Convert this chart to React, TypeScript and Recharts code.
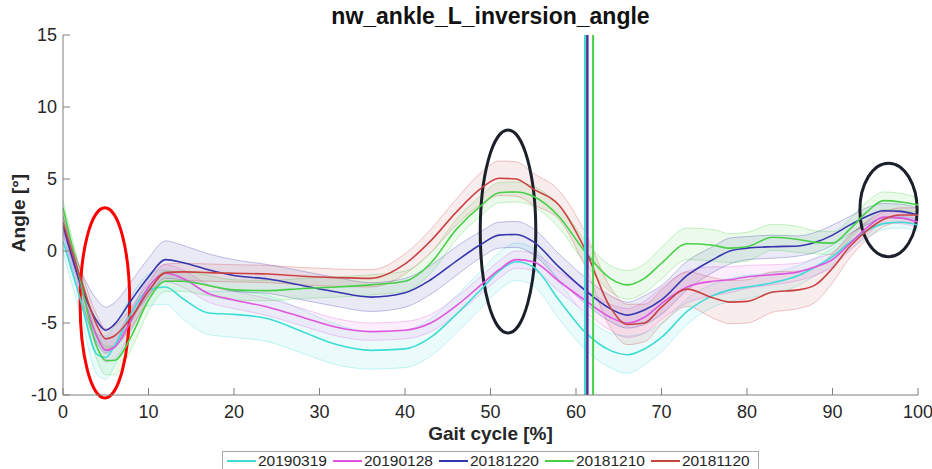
import {
  ComposedChart,
  Area,
  Line,
  XAxis,
  YAxis,
  ReferenceLine,
  ReferenceArea,
} from 'recharts';

// gait cycle samples (%)
const gaitX = [
  0, 2, 4, 5, 6, 8, 10,
  12, 14, 17, 20, 24,
  28, 32, 36, 40, 43,
  46, 49, 51, 53, 55,
  58, 61, 64, 66, 68,
  70, 73, 76, 78, 80,
  83, 86, 88, 90, 92,
  94, 96, 98, 100,
];

// mean curves (deg)
const mean20190319 = [
  0.7, -3.3, -7.2, -7.4, -6.6, -4.3, -2.7,
  -2.5, -3.3, -4.3, -4.4, -4.7,
  -5.6, -6.5, -6.9, -6.8, -6.0,
  -4.4, -2.6, -1.4, -0.75, -1.1,
  -3.4, -5.6, -6.9, -7.2, -6.8,
  -6.0, -4.2, -3.1, -2.7, -2.5,
  -2.2, -1.7, -1.1, -0.4, 0.6,
  1.4, 1.9, 2.0, 1.8,
];
const mean20190128 = [
  1.9, -2.3, -6.0, -6.9, -6.7, -4.8, -2.5,
  -1.55, -1.9, -2.95, -3.4, -3.9,
  -4.6, -5.3, -5.6, -5.5, -5.0,
  -3.8, -2.3, -1.3, -0.6, -0.75,
  -2.1, -3.4, -4.6, -5.0, -4.6,
  -3.65, -2.5, -2.1, -2.0, -1.8,
  -1.65, -1.45, -1.1, -0.6, 0.5,
  1.6, 2.35, 2.3, 2.0,
];
const mean20181220 = [
  1.8, -2.2, -4.9, -5.5, -5.1, -3.4, -1.8,
  -0.6, -0.8, -1.3, -1.7, -1.95,
  -2.4, -2.85, -3.2, -2.9, -2.0,
  -0.7, 0.5, 1.1, 1.15, 0.65,
  -1.1, -2.7, -4.0, -4.45, -4.1,
  -3.4, -1.7, -0.6, 0.0, 0.2,
  0.3, 0.35, 0.6, 1.1, 1.8,
  2.4, 2.8, 2.75, 2.5,
];
const mean20181210 = [
  3.0, -2.0, -6.7, -7.6, -7.6, -5.9, -3.4,
  -2.1, -2.1, -2.4, -2.7, -2.75,
  -2.6, -2.5, -2.35, -2.1, -0.85,
  1.5, 3.2, 4.05, 4.1, 3.8,
  2.4, 0.0, -1.9, -2.35, -1.9,
  -0.85, 0.5, 0.4, 0.2, 0.3,
  0.95, 0.8, 0.6, 0.55, 1.5,
  2.7, 3.5, 3.4, 3.2,
];
const mean20181120 = [
  2.0, -1.8, -5.2, -6.1, -5.9, -4.6, -2.8,
  -1.5, -1.45, -1.5, -1.55, -1.6,
  -1.75, -1.85, -1.9, -0.9, 0.7,
  2.7, 4.4, 5.05, 5.0, 4.3,
  3.2, 0.2, -3.9, -5.1, -5.0,
  -3.9, -2.65, -3.25, -3.55, -3.5,
  -2.85, -2.7, -2.35, -1.2, 0.3,
  1.4, 2.2, 2.5, 2.5,
];

// standard deviation half-widths (deg)
const sd20190319 = [
  0.8, 1.0, 1.4, 1.5, 1.4, 1.2, 1.1,
  1.2, 1.4, 1.5, 1.6, 1.6,
  1.5, 1.4, 1.3, 1.3, 1.3,
  1.3, 1.3, 1.3, 1.3, 1.3,
  1.3, 1.2, 1.2, 1.3, 1.1,
  1.0, 0.9, 0.8, 0.8, 0.8,
  0.7, 0.7, 0.6, 0.6, 0.5,
  0.5, 0.4, 0.4, 0.4,
];
const sd20190128 = [
  0.4, 0.6, 0.8, 0.8, 0.8, 0.7, 0.6,
  0.6, 0.6, 0.6, 0.6, 0.6,
  0.6, 0.6, 0.6, 0.6, 0.6,
  0.6, 0.6, 0.6, 0.6, 0.6,
  0.7, 0.8, 0.9, 1.0, 1.1,
  1.1, 1.1, 1.0, 0.9, 0.8,
  0.7, 0.6, 0.6, 0.5, 0.5,
  0.5, 0.4, 0.4, 0.4,
];
const sd20181220 = [
  0.6, 1.0, 1.5, 1.6, 1.5, 1.3, 1.3,
  1.3, 1.2, 1.1, 1.1, 1.0,
  1.0, 1.0, 1.0, 1.0, 1.0,
  1.0, 0.9, 0.9, 0.9, 0.9,
  0.9, 0.9, 0.9, 0.9, 1.0,
  1.0, 1.0, 0.9, 0.9, 0.8,
  0.8, 0.7, 0.7, 0.7, 0.6,
  0.6, 0.5, 0.5, 0.5,
];
const sd20181210 = [
  0.5, 0.7, 0.9, 1.0, 1.0, 0.9, 0.8,
  0.7, 0.7, 0.7, 0.7, 0.7,
  0.7, 0.7, 0.7, 0.7, 0.7,
  0.7, 0.7, 0.7, 0.7, 0.7,
  0.8, 0.8, 0.9, 1.0, 1.0,
  1.1, 1.1, 1.1, 1.0, 1.0,
  0.9, 0.9, 0.8, 0.8, 0.7,
  0.7, 0.6, 0.6, 0.5,
];
const sd20181120 = [
  0.5, 0.6, 0.7, 0.7, 0.7, 0.7, 0.6,
  0.6, 0.6, 0.6, 0.6, 0.6,
  0.6, 0.6, 0.6, 0.7, 0.8,
  0.9, 1.1, 1.2, 1.2, 1.1,
  1.0, 1.2, 1.4, 1.4, 1.3,
  1.2, 1.2, 1.4, 1.5, 1.5,
  1.4, 1.3, 1.2, 1.0, 0.8,
  0.6, 0.5, 0.5, 0.5,
];

// toe-off events (% gait cycle), same order as sessions
const toeOff = [61.05, 61.2, 61.35, 62.0, 61.3];

const sessionNames = ['20190319', '20190128', '20181220', '20181210', '20181120'];
const sessionColors = ['#3fdcd6', '#e055e0', '#3535ad', '#47d047', '#c94343'];

const xTicks = [0, 10, 20, 30, 40, 50, 60, 70, 80, 90, 100];
const yTicks = [-10, -5, 0, 5, 10, 15];

// highlighted regions (data units)
const highlights = [
  { x1: 2.0, x2: 7.8, y1: -10.2, y2: 3.0, color: '#ff0000' },
  { x1: 48.8, x2: 55.3, y1: -5.7, y2: 8.4, color: '#1b202b' },
  { x1: 93.2, x2: 99.9, y1: -0.4, y2: 6.1, color: '#1b202b' },
];

const means = [mean20190319, mean20190128, mean20181220, mean20181210, mean20181120];
const sds = [sd20190319, sd20190128, sd20181220, sd20181210, sd20181120];

const series = sessionNames.map((name, i) => ({
  key: `s${name}`,
  name,
  color: sessionColors[i],
  mean: means[i],
  sd: sds[i],
  event: toeOff[i],
}));

const rows = gaitX.map((x, i) => {
  const r: Record<string, number | number[]> = { x };
  series.forEach((s) => {
    r[s.key] = s.mean[i];
    r[`${s.key}Band`] = [s.mean[i] - s.sd[i], s.mean[i] + s.sd[i]];
  });
  return r;
});

const FONT = '"Liberation Sans", Arial, sans-serif';
const AXIS = '#7f7f7f';
const TEXT = '#262626';

const ellipse = (color: string) => (props: any) => {
  const { x, y, width, height } = props;
  return (
    <ellipse
      cx={x + width / 2}
      cy={y + height / 2}
      rx={Math.abs(width) / 2}
      ry={Math.abs(height) / 2}
      fill="none"
      stroke={color}
      strokeWidth={3}
    />
  );
};

export default function App() {
  return (
    <div
      style={{
        position: 'absolute',
        left: 0,
        top: 0,
        width: 932,
        height: 469,
        overflow: 'hidden',
        background: '#fff',
        fontFamily: FONT,
      }}
    >
      <div
        style={{
          position: 'absolute',
          left: 63,
          width: 855,
          top: 3,
          textAlign: 'center',
          fontSize: 23,
          fontWeight: 'bold',
          color: '#111',
        }}
      >
        nw_ankle_L_inversion_angle
      </div>

      <ComposedChart
        width={932}
        height={469}
        data={rows}
        margin={{ top: 35, right: 14, bottom: 34, left: 0 }}
        style={{ fontFamily: FONT }}
      >
        <XAxis
          dataKey="x"
          type="number"
          domain={[0, 100]}
          ticks={xTicks}
          interval={0}
          allowDataOverflow
          height={40}
          stroke={AXIS}
          tickSize={-7}
          tickMargin={17}
          tick={{ fill: TEXT, fontSize: 18 }}
        />
        <XAxis
          xAxisId="top"
          orientation="top"
          type="number"
          domain={[0, 100]}
          ticks={xTicks}
          interval={0}
          allowDataOverflow
          height={0}
          stroke={AXIS}
          tickSize={-7}
          tick={false}
        />
        <YAxis
          type="number"
          domain={[-10, 15]}
          ticks={yTicks}
          interval={0}
          allowDataOverflow
          width={63}
          stroke={AXIS}
          tickSize={-7}
          tickMargin={13}
          tick={{ fill: TEXT, fontSize: 18 }}
        />
        <YAxis
          yAxisId="right"
          orientation="right"
          type="number"
          domain={[-10, 15]}
          ticks={yTicks}
          interval={0}
          allowDataOverflow
          width={0}
          stroke={AXIS}
          tickSize={-7}
          tick={false}
        />

        {series.map((s) => (
          <Area
            key={`${s.key}Band`}
            dataKey={`${s.key}Band`}
            type="monotone"
            stroke={s.color}
            strokeOpacity={0.3}
            strokeWidth={1}
            fill={s.color}
            fillOpacity={0.1}
            activeDot={false}
            isAnimationActive={false}
          />
        ))}
        {series.map((s) => (
          <Line
            key={s.key}
            dataKey={s.key}
            name={s.name}
            type="monotone"
            stroke={s.color}
            strokeWidth={1.6}
            dot={false}
            activeDot={false}
            isAnimationActive={false}
          />
        ))}
        {[1, 4, 0, 2, 3].map((i) => (
          <ReferenceLine
            key={`ev${i}`}
            x={series[i].event}
            stroke={series[i].color}
            strokeWidth={2}
          />
        ))}
        {highlights.map((h, i) => (
          <ReferenceArea
            key={`hl${i}`}
            x1={h.x1}
            x2={h.x2}
            y1={h.y1}
            y2={h.y2}
            ifOverflow="visible"
            shape={ellipse(h.color)}
          />
        ))}
      </ComposedChart>

      <div
        style={{
          position: 'absolute',
          left: 19,
          top: 213,
          transform: 'translate(-50%, -50%) rotate(-90deg)',
          whiteSpace: 'nowrap',
          fontSize: 19,
          fontWeight: 'bold',
          color: TEXT,
        }}
      >
        Angle [°]
      </div>
      <div
        style={{
          position: 'absolute',
          left: 63,
          width: 855,
          top: 423,
          textAlign: 'center',
          fontSize: 19,
          fontWeight: 'bold',
          color: TEXT,
        }}
      >
        Gait cycle [%]
      </div>

      <div
        style={{
          position: 'absolute',
          left: 222,
          top: 451,
          width: 537,
          height: 20,
          border: '1px solid #a6a6a6',
          background: '#fff',
          display: 'flex',
          alignItems: 'center',
          paddingLeft: 4,
          boxSizing: 'border-box',
        }}
      >
        {series.map((s) => (
          <div
            key={`lg${s.key}`}
            style={{ display: 'flex', alignItems: 'center', marginRight: 6 }}
          >
            <div style={{ width: 29, height: 2, background: s.color, marginRight: 2 }} />
            <span style={{ fontSize: 15.5, color: TEXT, lineHeight: '18px' }}>{s.name}</span>
          </div>
        ))}
      </div>
    </div>
  );
}
